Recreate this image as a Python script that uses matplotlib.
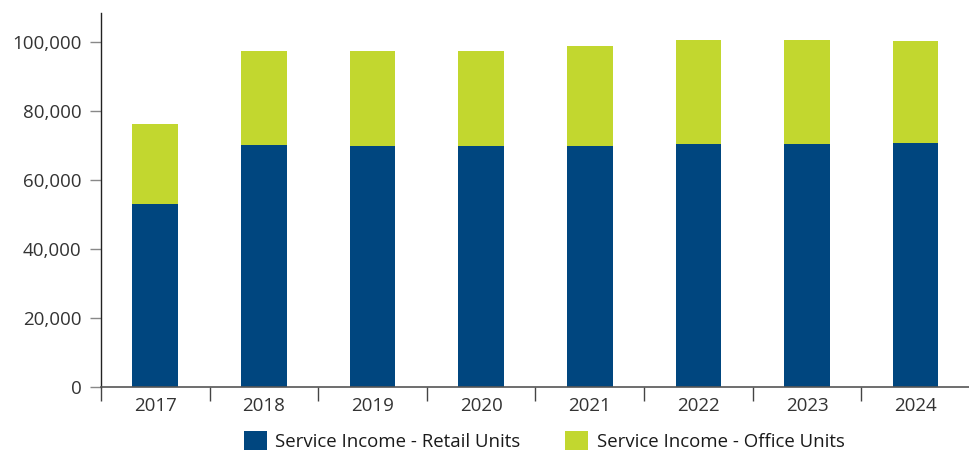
import matplotlib
matplotlib.use("Agg")
import matplotlib.pyplot as plt
import numpy as np

plt.rcParams['font.family'] = ['Open Sans', 'DejaVu Sans']

years = ['2017', '2018', '2019', '2020', '2021', '2022', '2023', '2024']
retail = [53100, 70250, 70050, 70050, 70050, 70550, 70550, 70850]
office = [23250, 27300, 27500, 27500, 28950, 30200, 30200, 29600]

blue = '#00467F'
green = '#C2D72F'
txt = '#333333'

fig = plt.figure(figsize=(9.7, 4.5), dpi=100)
ax = fig.add_axes([0.1041, 0.14, 0.8959, 0.8318])

x = np.arange(len(years))
w = 0.42
ax.bar(x, retail, w, color=blue, label='Service Income - Retail Units', zorder=2)
ax.bar(x, office, w, bottom=retail, color=green, label='Service Income - Office Units', zorder=2)

ax.set_xlim(-0.5, len(years) - 0.5)
ax.set_ylim(0, 108650)
ax.set_yticks(range(0, 100001, 20000))
ax.set_yticklabels([f'{v:,}' for v in range(0, 100001, 20000)])

# category labels in the middle, ticks on the boundaries
ax.set_xticks(x)
ax.set_xticklabels(years)
ax.set_xticks(np.arange(-0.5, len(years)), minor=True)
ax.tick_params(axis='x', which='major', length=0, pad=7, labelsize=13.5, labelcolor=txt)
ax.tick_params(axis='x', which='minor', length=10, width=1, color='#444444', direction='out')
ax.tick_params(axis='y', length=8, width=1, color='#888888', pad=6, labelsize=13.5, labelcolor=txt)

for s in ['top', 'right']:
    ax.spines[s].set_visible(False)
ax.spines['left'].set_color('#222222')
ax.spines['bottom'].set_color('#555555')
ax.spines['left'].set_linewidth(1)
ax.spines['bottom'].set_linewidth(1.2)

fig.legend(loc='center', bbox_to_anchor=(0.561, 0.02), ncol=2, frameon=False,
           fontsize=13.4, handlelength=1.25, handleheight=1.25, handletextpad=0.45,
           columnspacing=2.4, labelcolor='#1a1a1a')

fig.savefig('out.png', dpi=100)
